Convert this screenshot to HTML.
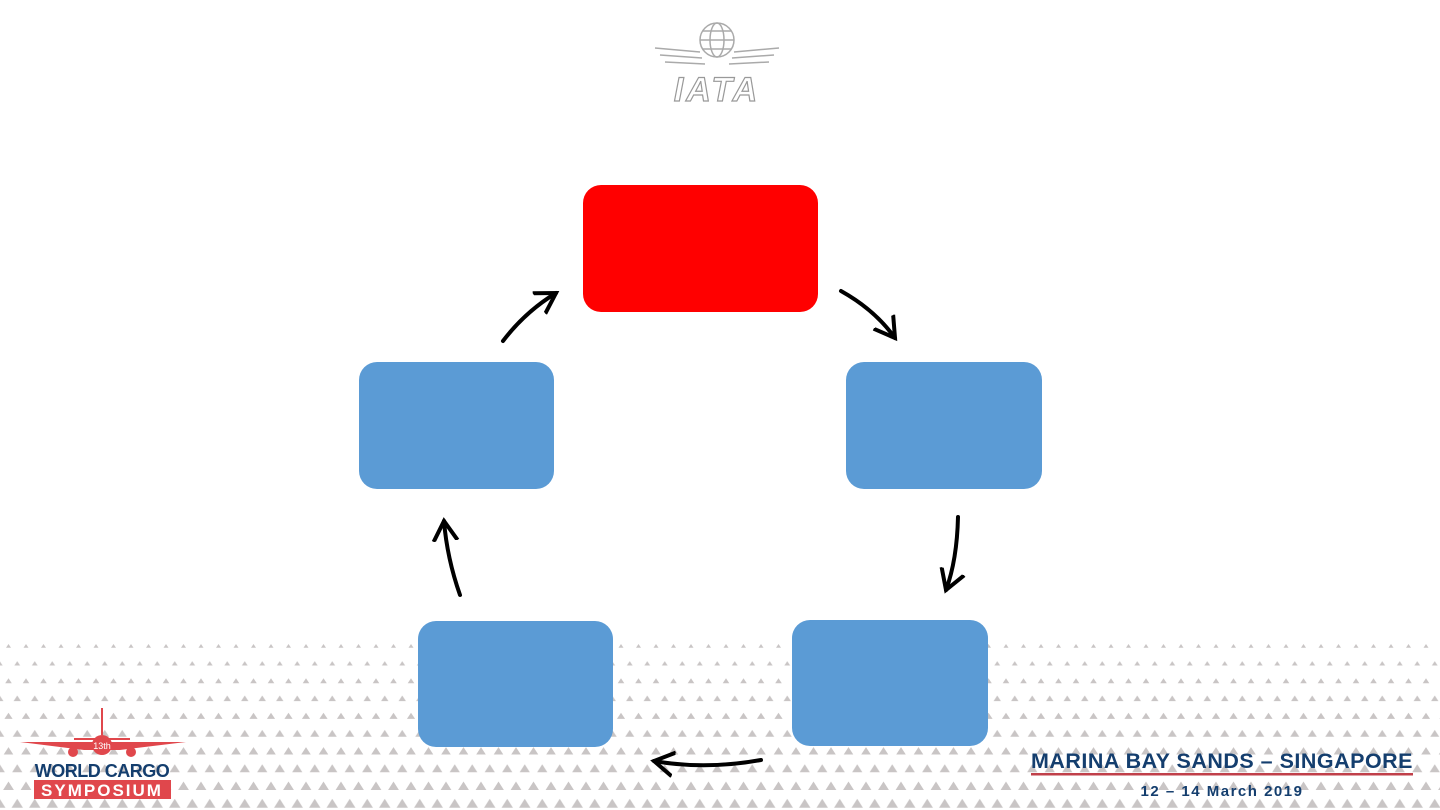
<!DOCTYPE html>
<html><head><style>
body{margin:0;width:1440px;height:810px;overflow:hidden;background:#fff;font-family:"Liberation Sans",sans-serif;position:relative}
.b{position:absolute;background:#5B9BD5;border-radius:18px}
</style></head><body>
<svg width="1440" height="810" style="position:absolute;left:0;top:0">
<defs>
<marker id="ah" markerWidth="8" markerHeight="8" refX="5" refY="4" orient="auto" markerUnits="strokeWidth">
<path d="M0,1 L5,4 L0,7" fill="none" stroke="#000" stroke-width="1"/></marker>
<pattern id="p0" patternUnits="userSpaceOnUse" x="0" y="637" width="17.5" height="17.5"><polygon points="6,10.8 8.5,7 11,10.8" fill="#c9c5c5"/></pattern>
<pattern id="p1" patternUnits="userSpaceOnUse" x="8.75" y="654.5" width="17.5" height="17.5"><polygon points="5.6,11 8.5,6.6 11.4,11" fill="#c9c5c5"/></pattern>
<pattern id="p2" patternUnits="userSpaceOnUse" x="0" y="672" width="17.5" height="17.5"><polygon points="5.2,11.3 8.5,6.3 11.8,11.3" fill="#c9c5c5"/></pattern>
<pattern id="p3" patternUnits="userSpaceOnUse" x="8.75" y="689.5" width="17.5" height="17.5"><polygon points="4.8,11.6 8.5,6 12.2,11.6" fill="#c9c5c5"/></pattern>
<pattern id="p4" patternUnits="userSpaceOnUse" x="0" y="707" width="17.5" height="17.5"><polygon points="4.4,11.9 8.5,5.7 12.6,11.9" fill="#c9c5c5"/></pattern>
<pattern id="p5" patternUnits="userSpaceOnUse" x="8.75" y="724.5" width="17.5" height="17.5"><polygon points="4,12.2 8.5,5.4 13,12.2" fill="#c9c5c5"/></pattern>
<pattern id="p6" patternUnits="userSpaceOnUse" x="0" y="742" width="17.5" height="17.5"><polygon points="3.7,12.5 8.5,5.1 13.3,12.5" fill="#c9c5c5"/></pattern>
<pattern id="p7" patternUnits="userSpaceOnUse" x="8.75" y="759.5" width="17.5" height="17.5"><polygon points="3.4,12.8 8.5,4.8 13.6,12.8" fill="#c9c5c5"/></pattern>
<pattern id="p8" patternUnits="userSpaceOnUse" x="0" y="777" width="17.5" height="17.5"><polygon points="3.1,13 8.5,4.5 13.9,13" fill="#c9c5c5"/></pattern>
<pattern id="p9" patternUnits="userSpaceOnUse" x="8.75" y="794.5" width="17.5" height="17.5"><polygon points="2.8,13.2 8.5,4.2 14.2,13.2" fill="#c9c5c5"/></pattern>
</defs>
<rect x="0" y="637" width="1440" height="17.5" fill="url(#p0)"/>
<rect x="0" y="654.5" width="1440" height="17.5" fill="url(#p1)"/>
<rect x="0" y="672" width="1440" height="17.5" fill="url(#p2)"/>
<rect x="0" y="689.5" width="1440" height="17.5" fill="url(#p3)"/>
<rect x="0" y="707" width="1440" height="17.5" fill="url(#p4)"/>
<rect x="0" y="724.5" width="1440" height="17.5" fill="url(#p5)"/>
<rect x="0" y="742" width="1440" height="17.5" fill="url(#p6)"/>
<rect x="0" y="759.5" width="1440" height="17.5" fill="url(#p7)"/>
<rect x="0" y="777" width="1440" height="17.5" fill="url(#p8)"/>
<rect x="0" y="794.5" width="1440" height="17.5" fill="url(#p9)"/>
<g fill="none" stroke="#000" stroke-width="4" stroke-linecap="round">
<path d="M503,341 Q525,312 556,293" marker-end="url(#ah)"/>
<path d="M841,291 Q875,310 895,338" marker-end="url(#ah)"/>
<path d="M958,517 Q957,560 946,590" marker-end="url(#ah)"/>
<path d="M761,760 Q705,770 654,761" marker-end="url(#ah)"/>
<path d="M460,595 Q447,558 444,521" marker-end="url(#ah)"/>
</g>
<g fill="none" stroke="#aaa" stroke-width="1.5">
<circle cx="717" cy="40" r="17"/><ellipse cx="717" cy="40" rx="7" ry="17"/>
<line x1="700" y1="40" x2="734" y2="40"/><line x1="703" y1="31" x2="731" y2="31"/><line x1="703" y1="49" x2="731" y2="49"/>
<path d="M655,48 L700,52 M660,55 L702,58 M665,62 L705,64 M779,48 L734,52 M774,55 L732,58 M769,62 L729,64"/>
</g>
<text x="717" y="101" text-anchor="middle" font-size="34" font-weight="bold" font-style="italic" fill="#fff" stroke="#999" stroke-width="1.2" font-family="Liberation Sans" letter-spacing="3">IATA</text>
<g fill="#e0474c" stroke="#e0474c">
<line x1="102" y1="708" x2="102" y2="735" stroke-width="2"/>
<path d="M20,742 L186,742 L120,750 L84,750 Z" stroke="none"/>
<path d="M74,739 L130,739" stroke-width="2"/>
<circle cx="102" cy="745" r="10" stroke="none"/>
<circle cx="73" cy="752" r="5" stroke="none"/><circle cx="131" cy="752" r="5" stroke="none"/>
</g>
<text x="102" y="749" text-anchor="middle" font-size="9" fill="#fff">13th</text>
<text x="102" y="777" text-anchor="middle" font-size="18" font-weight="bold" fill="#143e6e" letter-spacing="-0.5">WORLD CARGO</text>
<rect x="34" y="780" width="137" height="19" fill="#e0474c"/>
<text x="102" y="796" text-anchor="middle" font-size="17" font-weight="bold" fill="#fff" letter-spacing="2">SYMPOSIUM</text>
<text x="1222" y="768" text-anchor="middle" font-size="21" font-weight="bold" fill="#143e6e" letter-spacing="0.5" textLength="382" lengthAdjust="spacingAndGlyphs">MARINA BAY SANDS – SINGAPORE</text>
<rect x="1031" y="773" width="382" height="2.5" fill="#c0404a"/>
<text x="1222" y="796" text-anchor="middle" font-size="15" font-weight="bold" fill="#143e6e" letter-spacing="1.5">12 – 14 March 2019</text>
</svg>
<div class="b" style="left:583px;top:185px;width:235px;height:127px;background:#ff0000"></div>
<div class="b" style="left:359px;top:362px;width:195px;height:127px"></div>
<div class="b" style="left:846px;top:362px;width:196px;height:127px"></div>
<div class="b" style="left:418px;top:621px;width:195px;height:126px"></div>
<div class="b" style="left:792px;top:620px;width:196px;height:126px"></div>
</body></html>
